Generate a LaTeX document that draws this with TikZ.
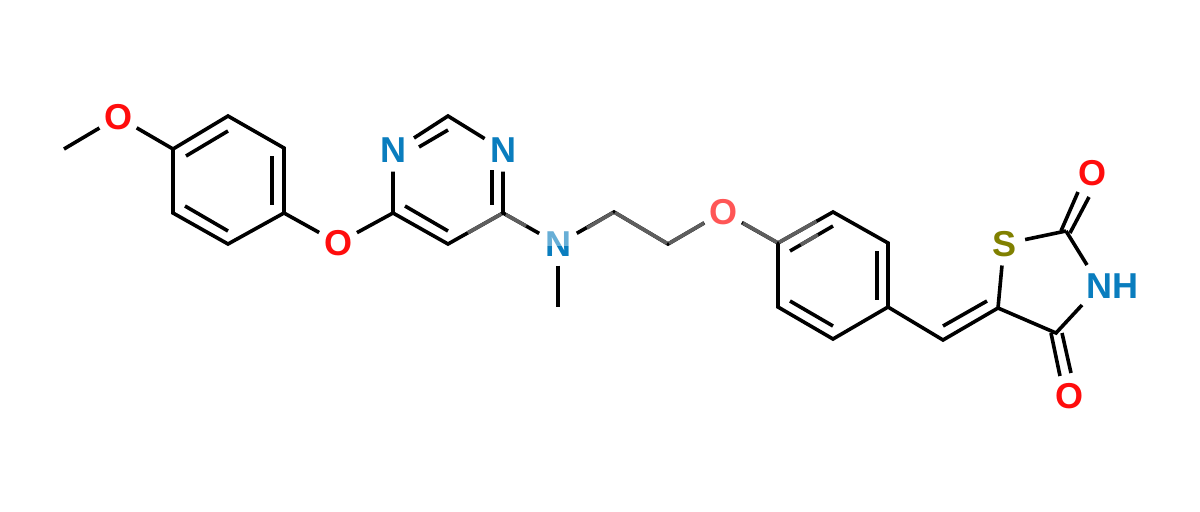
\documentclass[tikz,border=0pt]{standalone}
\usepackage{fontspec}
\setmainfont{Liberation Sans}
\usetikzlibrary{calc}
\definecolor{oxy}{HTML}{FF0D0D}
\definecolor{nit}{HTML}{0A7DBE}
\definecolor{sul}{HTML}{808000}
\definecolor{fade}{HTML}{5E5E5E}
\tikzset{
  x=0.75pt,y=-0.75pt,
  bond/.style={draw=black,line width=2.7pt,line join=miter,line cap=butt},
  faded/.style={draw=fade,line width=2.7pt,line cap=butt},
  atom/.style={circle,inner sep=0pt,minimum size=32pt,font=\bfseries\fontsize{27pt}{27pt}\selectfont},
  oatom/.style={atom,text=oxy},
  natom/.style={atom,text=nit},
  satom/.style={atom,text=sul}
}
\begin{document}
\begin{tikzpicture}
\useasboundingbox (0,0) rectangle (1200,511);
% skeleton carbons
\coordinate (me1) at (64,149);
\coordinate (a1) at (173,149);
\coordinate (a2) at (228,116);
\coordinate (a3) at (284,148);
\coordinate (a4) at (284,213);
\coordinate (a5) at (228,244);
\coordinate (a6) at (173,213);
\coordinate (p1) at (393,213);
\coordinate (p2) at (448,244);
\coordinate (p3) at (503,213);
\coordinate (p4) at (448,116);
\coordinate (me2) at (558,307);
\coordinate (e1) at (614,212);
\coordinate (e2) at (668,244);
\coordinate (b1) at (778,243);
\coordinate (b2) at (833,212);
\coordinate (b3) at (888,243);
\coordinate (b4) at (888,307);
\coordinate (b5) at (833,339);
\coordinate (b6) at (778,307);
\coordinate (v) at (943,340);
\coordinate (t1) at (998,308);
\coordinate (t2) at (1066,231);
\coordinate (t3) at (1056,333);
% heteroatoms
\node[oatom] (O1) at (118,117) {O};
\node[oatom] (O2) at (338,243) {O};
\node[natom] (N1) at (393,150) {N};
\node[natom] (N2) at (503,150) {N};
\node[natom] (N3) at (558,244) {N};
\node[oatom] (O3) at (723,212) {O};
\node[satom] (S) at (1004,244) {S};
\node[oatom] (O4) at (1092,173) {O};
\node[oatom] (O5) at (1069,396) {O};
\node[atom,minimum size=0pt,text=nit] (NH) at (1112,286) {NH};
\coordinate (nhA) at (1087,265);
\coordinate (nhB) at (1082,305);
% double-bond ends
\coordinate (d1a) at (186,156); \coordinate (d1b) at (228,131);
\coordinate (d2a) at (272,156); \coordinate (d2b) at (272,205);
\coordinate (d3a) at (185,206); \coordinate (d3b) at (228,231);
\coordinate (d4a) at (405,206); \coordinate (d4b) at (448,231);
\coordinate (d5a) at (492,170); \coordinate (d5b) at (492,205);
\coordinate (d6a) at (419,147); \coordinate (d6b) at (448,130);
\coordinate (d6c) at (414,138);
\coordinate (d7a) at (790,251); \coordinate (d7b) at (833,226);
\coordinate (d8a) at (877,251); \coordinate (d8b) at (877,300);
\coordinate (d9a) at (790,301); \coordinate (d9b) at (833,326);
\coordinate (d10a) at (943,326); \coordinate (d10b) at (987,301);
\coordinate (c1a) at (1061,231); \coordinate (c1b) at (1078,192);
\coordinate (c2a) at (1070,233); \coordinate (c2b) at (1089,197);
\coordinate (c3a) at (1051,333); \coordinate (c3b) at (1060,376);
\coordinate (c4a) at (1062,333); \coordinate (c4b) at (1071,373);
% methoxyphenyl
\draw[bond] (me1) -- (O1);
\draw[bond] (O1) -- (a1);
\draw[bond] (a1) -- (a2) -- (a3) -- (a4) -- (a5) -- (a6) -- cycle;
\draw[bond] (d1a) -- (d1b);
\draw[bond] (d2a) -- (d2b);
\draw[bond] (d3a) -- (d3b);
\draw[bond] (a4) -- (O2);
\draw[bond] (O2) -- (p1);
% pyrimidine
\draw[bond] (N1) -- (p1) -- (p2) -- (p3) -- (N2);
\draw[bond] (d4a) -- (d4b);
\draw[bond] (d5a) -- (d5b);
\draw[bond] (d6c) -- (p4) -- (N2);
\draw[bond] (d6a) -- (d6b);
% linker
\draw[bond] (p3) -- (N3);
\draw[bond] (N3) -- (me2);
\draw[bond] (N3) -- (e1) -- (e2) -- (O3);
\draw[bond] (O3) -- (b1);
% benzene
\draw[bond] (b1) -- (b2) -- (b3) -- (b4) -- (b5) -- (b6) -- cycle;
\draw[bond] (d7a) -- (d7b);
\draw[bond] (d8a) -- (d8b);
\draw[bond] (d9a) -- (d9b);
\draw[bond] (b4) -- (v) -- (t1);
\draw[bond] (d10a) -- (d10b);
% thiazolidinedione
\draw[bond] (t1) -- (S);
\draw[bond] (S) -- (t2);
\draw[bond] (t2) -- (nhA);
\draw[bond] (nhB) -- (t3) -- (t1);
\draw[bond] (c1a) -- (c1b);
\draw[bond] (c2a) -- (c2b);
\draw[bond] (c3a) -- (c3b);
\draw[bond] (c4a) -- (c4b);
% greyed stretches of the bonds
\draw[faded] ($(p2)!0.36!(p3)$) -- ($(p2)!0.97!(p3)$);
\draw[faded] ($(p3)!0.05!(N3)$) -- ($(p3)!0.42!(N3)$);
\draw[faded] (587,228) -- ($(e1)+(-1,0.6)$);
\draw[faded] ($(e1)+(1,0.6)$) -- ($(e2)+(-1,-0.6)$);
\draw[faded] ($(e2)+(1,-0.6)$) -- (704,223);
\draw[faded] (743,223) -- ($(b1)+(-1,-0.6)$);
\draw[faded] ($(b1)+(1,-0.6)$) -- ($(b1)!0.7!(b2)$);
\draw[faded] ($(d7a)!0.25!(d7b)$) -- ($(d7a)!0.65!(d7b)$);
% washed-out upper parts of two labels
\fill[white,opacity=0.38] (543,224) rectangle (573,246);
\fill[white,opacity=0.3] (709,196) rectangle (738,228);
\end{tikzpicture}
\end{document}
